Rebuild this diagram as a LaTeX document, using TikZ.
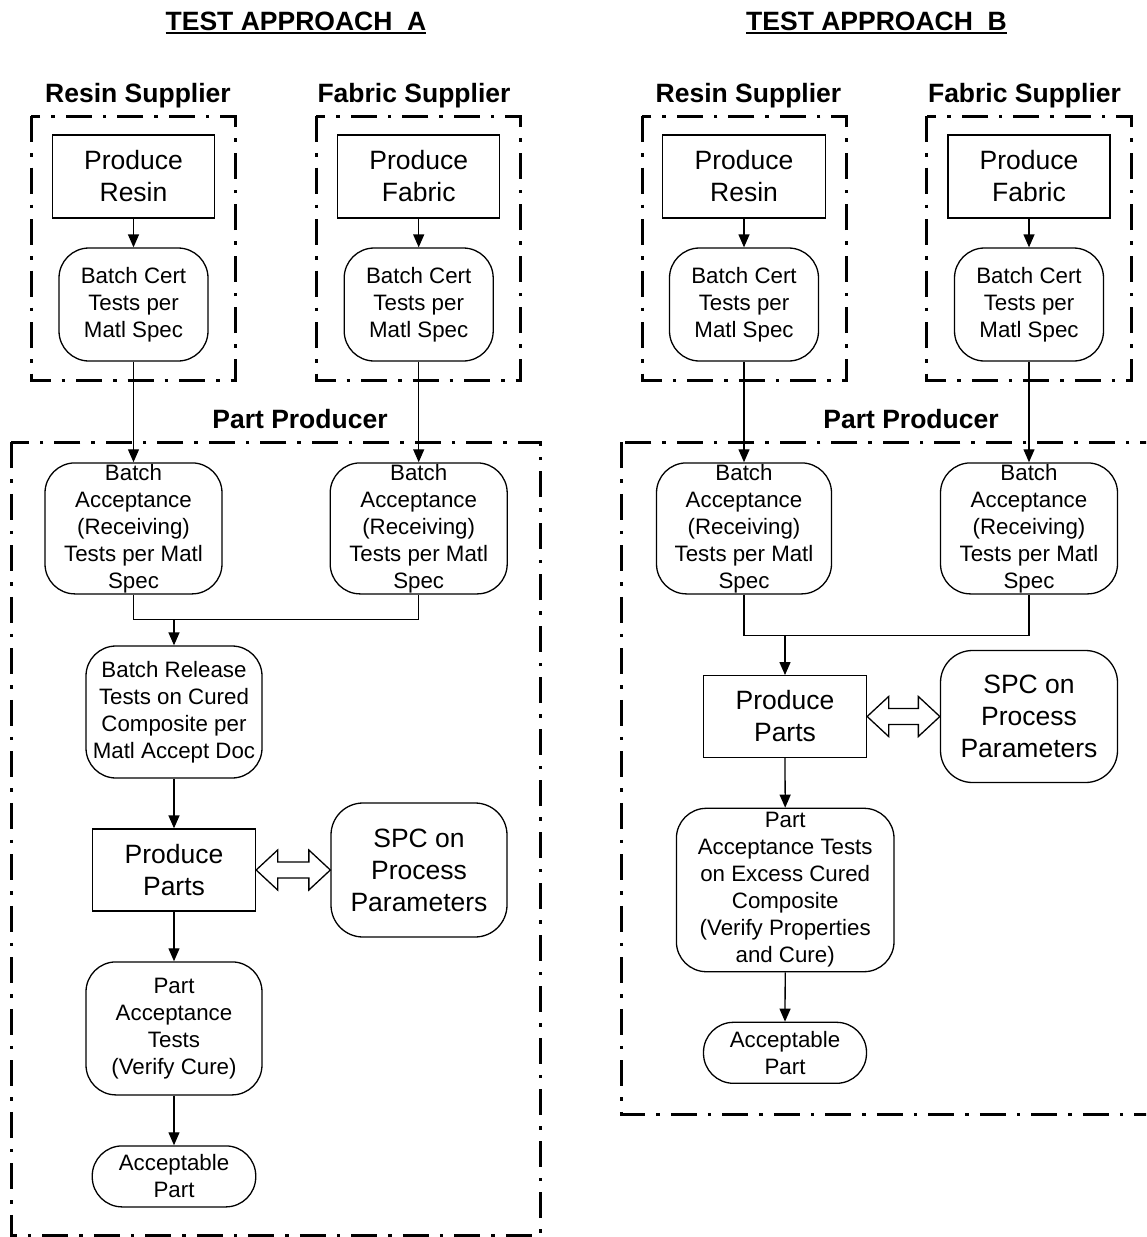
\documentclass[tikz,border=0pt]{standalone}
\usepackage{fontspec}
\setmainfont{Liberation Sans}
\usetikzlibrary{arrows.meta,calc}
\begin{document}
\begin{tikzpicture}[x=1pt,y=-1pt,
  base/.style={draw, line width=1.3pt, inner sep=0pt, align=center},
  sqbox/.style={base, rectangle, font=\fontsize{26.5}{32}\selectfont},
  rndbox/.style={base, rounded corners=30pt, font=\fontsize{22.3}{27}\selectfont},
  rndbig/.style={base, rounded corners=32pt, font=\fontsize{26.5}{32}\selectfont},
  grp/.style={draw, line width=3pt, dash pattern=on 26pt off 11pt on 3.5pt off 11pt},
  lbl/.style={font=\bfseries\fontsize{26.5}{32}\selectfont, inner sep=0pt, anchor=base},
  arr/.style={line width=1.3pt, -{Triangle[length=13pt,width=11pt]}},
  ln/.style={line width=1.3pt},
  dbl/.style={line width=1.3pt, fill=white, line join=miter}
]
\useasboundingbox (0,0) rectangle (1146,1237);
\clip (0,0) rectangle (1146,1237);

% ---------------- Titles ----------------
\node[lbl] (tA) at (296,30.7) {\vtop{\hbox{TEST APPROACH\ \ A}\kern1pt\hrule height 1.7pt}};
\node[lbl] (tB) at (876.5,30.7) {\vtop{\hbox{TEST APPROACH\ \ B}\kern1pt\hrule height 1.7pt}};

% ================= APPROACH A =================
\node[lbl] (rsA) at (138,102.7) {Resin Supplier};
\node[lbl] (fsA) at (414,102.7) {Fabric Supplier};
\draw[grp] (31,116) rectangle (235,380);
\draw[grp] (316,116) rectangle (520,380);

\node[sqbox, minimum width=162pt, minimum height=83pt] (prA) at (133.5,176.5) {Produce\\Resin};
\node[rndbox, minimum width=149pt, minimum height=113pt] (bcrA) at (133.5,304.5) {Batch Cert\\Tests per\\Matl Spec};
\node[sqbox, minimum width=162pt, minimum height=83pt] (pfA) at (418.7,176.5) {Produce\\Fabric};
\node[rndbox, minimum width=149pt, minimum height=113pt] (bcfA) at (418.7,304.5) {Batch Cert\\Tests per\\Matl Spec};

\node[lbl] (ppLA) at (300,428) {Part Producer};
\draw[grp] (11,442.3) rectangle (540.5,1235);

\node[rndbox, minimum width=177pt, minimum height=131pt] (baRA) at (133.5,528.4) {Batch\\Acceptance\\(Receiving)\\Tests per Matl\\Spec};
\node[rndbox, minimum width=177pt, minimum height=131pt] (baFA) at (418.7,528.4) {Batch\\Acceptance\\(Receiving)\\Tests per Matl\\Spec};
\coordinate (jA) at (174,619.3);
\node[rndbox, minimum width=176pt, minimum height=132pt] (brA) at (174,712) {Batch Release\\Tests on Cured\\Composite per\\Matl Accept Doc};
\node[sqbox, minimum width=163pt, minimum height=82pt] (ppA) at (174,870) {Produce\\Parts};
\node[rndbig, minimum width=176pt, minimum height=134pt] (spcA) at (419,870) {SPC on\\Process\\Parameters};
\node[rndbox, minimum width=176pt, minimum height=133pt] (paA) at (174,1028.4) {Part\\Acceptance\\Tests\\(Verify Cure)};
\node[rndbox, minimum width=163.5pt, minimum height=61pt] (apA) at (174,1176.4) {Acceptable\\Part};

\draw[arr] (prA.south) -- (bcrA.north);
\draw[arr] (pfA.south) -- (bcfA.north);
\draw[arr] (bcrA.south) -- (baRA.north);
\draw[arr] (bcfA.south) -- (baFA.north);
\draw[ln] (baRA.south) |- (jA) -| (baFA.south);
\draw[arr] (jA) -- (brA.north);
\draw[arr] (brA.south) -- (ppA.north);
\draw[arr] (ppA.south) -- (paA.north);
\draw[arr] (paA.south) -- (apA.north);
\draw[dbl] (ppA.east) -- ++(21.5,-20) -- ++(0,12) -- ($(spcA.west)+(-21.5,-8)$) -- ++(0,-12) -- (spcA.west) -- ++(-21.5,20) -- ++(0,-12) -- ($(ppA.east)+(21.5,8)$) -- ++(0,12) -- cycle;

% ================= APPROACH B =================
\node[lbl] (rsB) at (748.5,102.7) {Resin Supplier};
\node[lbl] (fsB) at (1024.5,102.7) {Fabric Supplier};
\draw[grp] (642.4,116) rectangle (846.4,380);
\draw[grp] (926.8,116) rectangle (1131,380);

\node[sqbox, minimum width=163pt, minimum height=83pt] (prB) at (744,176.5) {Produce\\Resin};
\node[rndbox, minimum width=149pt, minimum height=113pt] (bcrB) at (744,304.5) {Batch Cert\\Tests per\\Matl Spec};
\node[sqbox, minimum width=162pt, minimum height=83pt] (pfB) at (1029,176.5) {Produce\\Fabric};
\node[rndbox, minimum width=149pt, minimum height=113pt] (bcfB) at (1029,304.5) {Batch Cert\\Tests per\\Matl Spec};

\node[lbl] (ppLB) at (911,428) {Part Producer};
\draw[grp] (621.6,442.3) rectangle (1175,1114);

\node[rndbox, minimum width=175pt, minimum height=131pt] (baRB) at (744,528.4) {Batch\\Acceptance\\(Receiving)\\Tests per Matl\\Spec};
\node[rndbox, minimum width=177pt, minimum height=131pt] (baFB) at (1029,528.4) {Batch\\Acceptance\\(Receiving)\\Tests per Matl\\Spec};
\coordinate (jB) at (785,635.7);
\node[sqbox, minimum width=163pt, minimum height=81.6pt] (ppB) at (785,716.5) {Produce\\Parts};
\node[rndbig, minimum width=177pt, minimum height=132pt] (spcB) at (1029,716.5) {SPC on\\Process\\Parameters};
\node[rndbox, minimum width=217.6pt, minimum height=163.4pt] (paB) at (785.2,890) {Part\\Acceptance Tests\\on Excess Cured\\Composite\\(Verify Properties\\and Cure)};
\node[rndbox, minimum width=163pt, minimum height=61pt] (apB) at (785,1052.8) {Acceptable\\Part};

\draw[arr] (prB.south) -- (bcrB.north);
\draw[arr] (pfB.south) -- (bcfB.north);
\draw[arr] (bcrB.south) -- (baRB.north);
\draw[arr] (bcfB.south) -- (baFB.north);
\draw[ln] (baRB.south) |- (jB) -| (baFB.south);
\draw[arr] (jB) -- (ppB.north);
\draw[arr] (ppB.south) -- (paB.north);
\draw[arr] (paB.south) -- (apB.north);
\draw[dbl] (ppB.east) -- ++(21.5,-20) -- ++(0,12) -- ($(spcB.west)+(-21.5,-8)$) -- ++(0,-12) -- (spcB.west) -- ++(-21.5,20) -- ++(0,-12) -- ($(ppB.east)+(21.5,8)$) -- ++(0,12) -- cycle;
\end{tikzpicture}
\end{document}
